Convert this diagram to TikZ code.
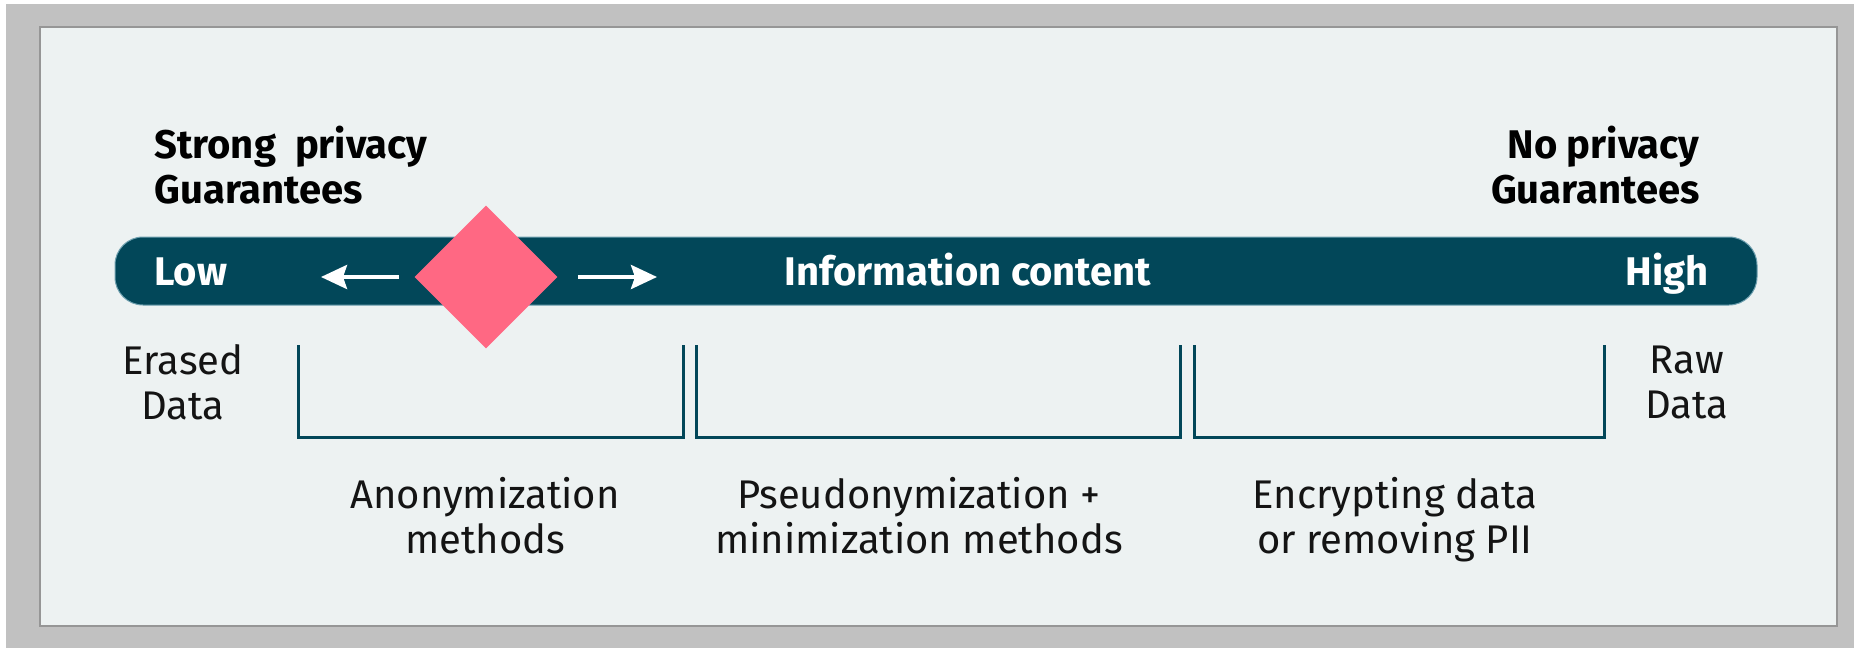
\documentclass[tikz,border=0pt]{standalone}
\usepackage{fontspec}
\setmainfont{Fira Sans}
\usetikzlibrary{arrows.meta,shapes.geometric}
\definecolor{barcol}{RGB}{2,71,89}
\definecolor{barline}{RGB}{110,160,175}
\definecolor{pinkmark}{RGB}{255,104,131}
\definecolor{panelfill}{RGB}{237,242,242}
\definecolor{panelline}{RGB}{150,150,150}
\definecolor{outergray}{RGB}{193,193,193}
\definecolor{inktext}{RGB}{20,20,20}
\begin{document}
\begin{tikzpicture}[x=0.5pt,y=-0.5pt,
  head/.style={font=\bfseries\fontsize{20}{22.5}\selectfont, inner sep=0pt, text=black},
  body/.style={font=\fontsize{20}{22.5}\selectfont, inner sep=0pt, align=center, text=inktext},
  bartext/.style={font=\bfseries\fontsize{20}{22.5}\selectfont, inner sep=0pt, text=white},
  bracketline/.style={draw=barcol, line width=1.5pt},
  flow/.style={draw=white, line width=2pt, -{Stealth[length=13pt,width=12pt,inset=2pt]}}]
\useasboundingbox (0,0) rectangle (1854,648);
% background and panel
\fill[white] (0,0) rectangle (1854,648);
\fill[outergray] (6,4) rectangle (1854,648);
\draw[fill=panelfill, draw=panelline, line width=1pt] (40,27) rectangle (1837,626);
% bar
\node[name=bar, fill=barcol, draw=barline, line width=0.5pt, rounded corners=14pt,
      minimum width=821pt, minimum height=34pt, inner sep=0pt] at (936,271) {};
\node[bartext, anchor=base west] (low) at (154,285) {Low};
\node[bartext, anchor=base east] (high) at (1709,285) {High};
\node[bartext, anchor=base] (info) at (968,285) {Information content};
% marker and arrows
\node[name=marker, diamond, fill=pinkmark, aspect=1, minimum width=71.5pt,
      minimum height=71.5pt, inner sep=0pt] at (486,277) {};
\coordinate (lowtip) at (321,277);
\coordinate (hightip) at (657,277);
\draw[flow] ([xshift=-7.5pt]marker.west) -- (lowtip);
\draw[flow] ([xshift=10pt]marker.east) -- (hightip);
% headings
\node[head, anchor=base west, align=left] (strong) at (154,203) {Strong\ \ privacy\\Guarantees};
\node[head, anchor=base east, align=right] (none) at (1700,203) {No privacy\\Guarantees};
% ends
\node[body, anchor=base] (erased) at (183,419) {Erased\\Data};
\node[body, anchor=base] (raw) at (1687,418) {Raw\\Data};
% brackets
\draw[bracketline] (298,345) -- (298,437) -- (683,437) -- (683,345);
\draw[bracketline] (696,345) -- (696,437) -- (1180,437) -- (1180,345);
\draw[bracketline] (1194,345) -- (1194,437) -- (1604,437) -- (1604,345);
% labels
\node[body, anchor=base] (anon) at (485,553) {Anonymization\\methods};
\node[body, anchor=base] (pseudo) at (919,553) {Pseudonymization +\\minimization methods};
\node[body, anchor=base] (encrypt) at (1395,553) {Encrypting data\\or removing PII};
\end{tikzpicture}
\end{document}
